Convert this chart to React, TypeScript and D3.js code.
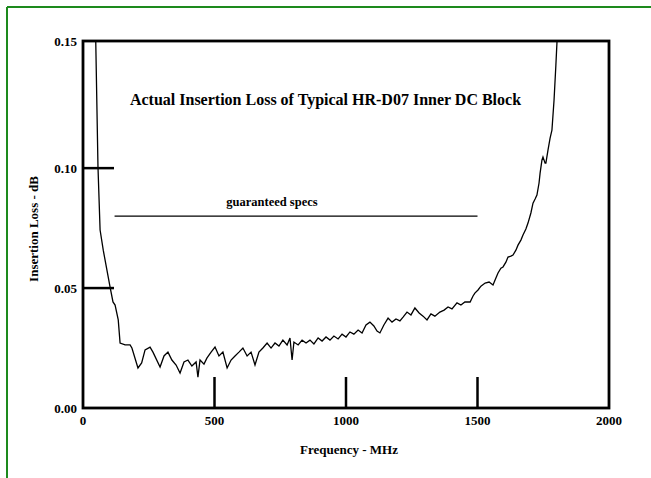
import React from "react";
import * as d3 from "d3";

const freqs = [47, 57, 65, 77, 103, 114, 122, 134, 141, 160, 179, 186, 209, 223, 236, 255, 266, 293, 308, 323, 338, 354, 369, 384, 399, 414, 430, 437, 445, 460, 471, 487, 502, 517, 532, 548, 563, 578, 593, 608, 624, 639, 654, 669, 684, 700, 715, 730, 745, 760, 776, 787, 795, 802, 818, 833, 848, 863, 878, 894, 909, 924, 939, 954, 970, 985, 1000, 1015, 1030, 1046, 1061, 1076, 1091, 1106, 1118, 1129, 1144, 1160, 1175, 1190, 1205, 1217, 1232, 1247, 1262, 1278, 1293, 1308, 1323, 1338, 1357, 1373, 1388, 1403, 1422, 1437, 1452, 1472, 1483, 1490, 1502, 1513, 1529, 1544, 1559, 1570, 1578, 1589, 1597, 1608, 1616, 1627, 1635, 1646, 1654, 1665, 1673, 1684, 1692, 1703, 1711, 1719, 1726, 1734, 1738, 1745, 1749, 1757, 1760, 1768, 1776, 1783, 1791, 1798, 1802, 1806];
const losses = [0.162, 0.1004, 0.0742, 0.0658, 0.0504, 0.0442, 0.0429, 0.0367, 0.0271, 0.0263, 0.0263, 0.025, 0.0167, 0.0188, 0.0242, 0.0254, 0.0233, 0.0171, 0.0217, 0.0233, 0.02, 0.0179, 0.0146, 0.0192, 0.02, 0.0175, 0.0192, 0.0129, 0.02, 0.0183, 0.0208, 0.0233, 0.0254, 0.0217, 0.0233, 0.0167, 0.02, 0.0217, 0.0233, 0.025, 0.0217, 0.0233, 0.0179, 0.0233, 0.025, 0.0271, 0.025, 0.0271, 0.0258, 0.0283, 0.0263, 0.0292, 0.02, 0.0275, 0.0263, 0.0283, 0.0271, 0.0283, 0.0267, 0.0292, 0.0279, 0.0296, 0.0283, 0.03, 0.0288, 0.0308, 0.0296, 0.0317, 0.0308, 0.0325, 0.0313, 0.0346, 0.0358, 0.0342, 0.0321, 0.0313, 0.0346, 0.0375, 0.0358, 0.0371, 0.0363, 0.0379, 0.04, 0.0388, 0.0417, 0.0396, 0.0383, 0.0367, 0.0392, 0.0383, 0.04, 0.0408, 0.0421, 0.0413, 0.0438, 0.0429, 0.0442, 0.0442, 0.0467, 0.0479, 0.0492, 0.0508, 0.0521, 0.0525, 0.0513, 0.0542, 0.0563, 0.0583, 0.0588, 0.0608, 0.0629, 0.0633, 0.0638, 0.0658, 0.0679, 0.07, 0.0721, 0.0746, 0.0771, 0.0813, 0.0854, 0.0871, 0.0888, 0.0938, 0.0979, 0.1033, 0.1046, 0.1021, 0.1021, 0.1075, 0.1125, 0.1158, 0.1283, 0.1429, 0.1521, 0.1617];

const xTicks = [0, 500, 1000, 1500, 2000];
const xTickMarks = [500, 1000, 1500];
const yTicks = [0, 0.05, 0.1, 0.15];
const yTickLabels = ["0.00", "0.05", "0.10", "0.15"];
const yTickMarks = [0.05, 0.1];
const specRange = [120, 1500];
const specValue = 0.08;

const title = "Actual Insertion Loss of Typical HR-D07 Inner DC Block";
const xTitle = "Frequency - MHz";
const yTitle = "Insertion Loss - dB";
const specLabel = "guaranteed specs";

export default function App() {
  const W = 651, H = 478;
  const left = 83, right = 609, top = 41, bottom = 408;
  const x = d3.scaleLinear().domain([0, 2000]).range([left, right]);
  const y = d3.scaleLinear().domain([0, 0.153]).range([bottom, top]);
  const pts: [number, number][] = freqs.map((f, i) => [f, losses[i]]);
  const line = d3.line<[number, number]>().x(d => x(d[0])).y(d => y(d[1]));
  const font = "'Liberation Serif', 'Times New Roman', serif";
  const green = "#1d8a1d";
  return (
    <svg width={W} height={H} style={{ position: "absolute", left: 0, top: 0, background: "#fff" }} fontFamily={font}>
      <defs>
        <clipPath id="plotclip">
          <rect x={left} y={top} width={right - left} height={bottom - top} />
        </clipPath>
      </defs>
      <line x1={7} y1={7} x2={W} y2={7} stroke={green} strokeWidth={2} />
      <line x1={7} y1={7} x2={7} y2={H} stroke={green} strokeWidth={2} />

      <path d={line(pts) || ""} fill="none" stroke="#000" strokeWidth={1.3} clipPath="url(#plotclip)" />

      <rect x={left} y={top} width={right - left} height={bottom - top} fill="none" stroke="#000" strokeWidth={2.8} />

      {yTickMarks.map(v => (
        <line key={v} x1={left} x2={left + 31} y1={y(v)} y2={y(v)} stroke="#000" strokeWidth={2.5} />
      ))}
      {xTickMarks.map(v => (
        <line key={v} x1={x(v)} x2={x(v)} y1={bottom} y2={bottom - 31} stroke="#000" strokeWidth={2.5} />
      ))}

      {yTicks.map((v, i) => (
        <text key={v} x={left - 6} y={v === 0.15 ? top : y(v)} dy="0.35em" textAnchor="end" fontSize={13} fontWeight="bold">
          {yTickLabels[i]}
        </text>
      ))}
      {xTicks.map(v => (
        <text key={v} x={x(v)} y={425} textAnchor="middle" fontSize={13} fontWeight="bold">
          {v}
        </text>
      ))}

      <line x1={x(specRange[0])} x2={x(specRange[1])} y1={y(specValue)} y2={y(specValue)} stroke="#000" strokeWidth={1.2} />
      <text x={272} y={206} textAnchor="middle" fontSize={12.5} fontWeight="bold">{specLabel}</text>

      <text x={325.5} y={105} textAnchor="middle" fontSize={16} fontWeight="bold">{title}</text>
      <text x={349} y={454} textAnchor="middle" fontSize={13} fontWeight="bold">{xTitle}</text>
      <text transform="translate(38,229) rotate(-90)" textAnchor="middle" fontSize={13} fontWeight="bold">{yTitle}</text>
    </svg>
  );
}
